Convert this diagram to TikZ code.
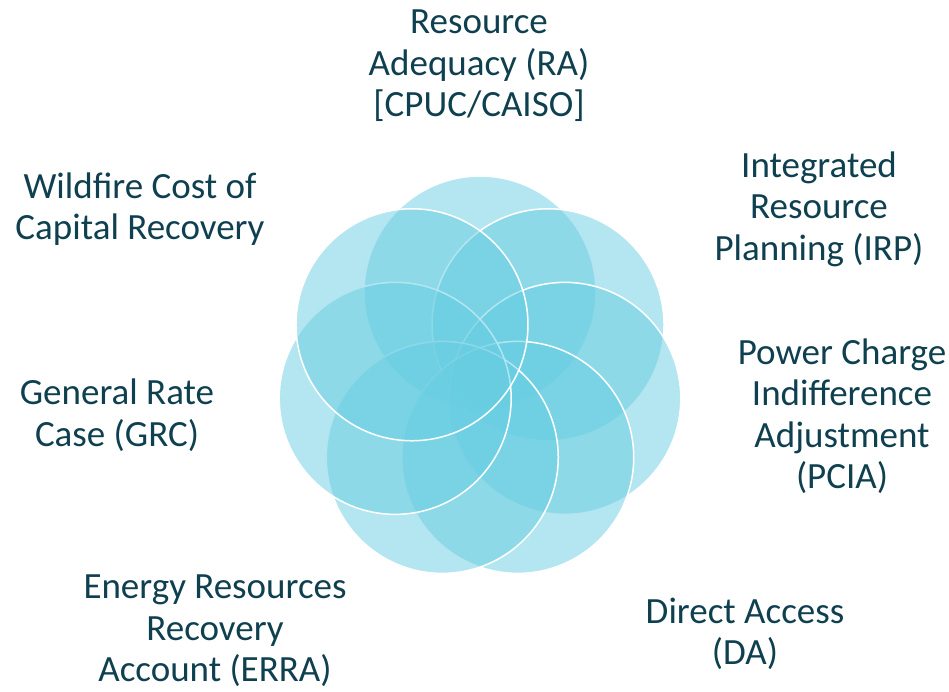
\documentclass[tikz,border=0pt]{standalone}
\usepackage{fontspec}
\setmainfont{Carlito}
\definecolor{petalblue}{RGB}{103,205,225}
\definecolor{labelteal}{RGB}{15,64,80}
\begin{document}
\begin{tikzpicture}[x=1pt, y=-1pt,
  petal/.style={fill=petalblue, fill opacity=.5, draw=white, line width=1.5pt},
  topic/.style={text=labelteal, align=center, inner sep=0pt, font=\fontsize{37}{41.5}\selectfont}]
\useasboundingbox (0,0) rectangle (949,691);
\coordinate (hub) at (480,379);

% seven petals, drawn clockwise from the top
\foreach \k in {0,...,6}
  \filldraw[petal, shift={(hub)}] (-90+51.4286*\k:87) circle[radius=116];

\node[topic] (ra) at (479,66) {Resource\\Adequacy (RA)\\{[CPUC/CAISO]}};
\node[topic] (irp) at (819,209) {Integrated\\Resource\\Planning (IRP)};
\node[topic] (pcia) at (842,416) {Power Charge\\Indifference\\Adjustment\\(PCIA)};
\node[topic] (da) at (745,634) {Direct Access\\(DA)};
\node[topic] (erra) at (215,631) {Energy Resources\\Recovery\\Account (ERRA)};
\node[topic] (grc) at (117,415) {General Rate\\Case (GRC)};
\node[topic] (wccr) at (140,209) {Wildfire Cost of\\Capital Recovery};
\end{tikzpicture}
\end{document}
